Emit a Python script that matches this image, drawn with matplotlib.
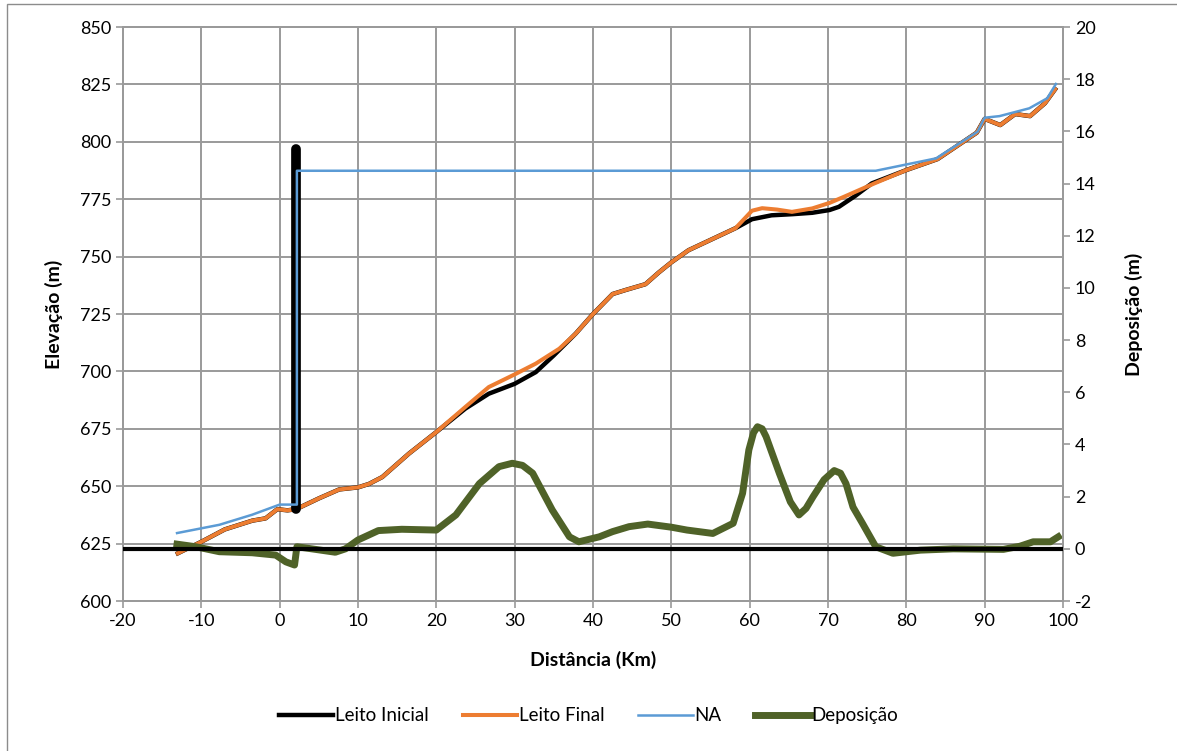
import matplotlib.pyplot as plt
from matplotlib.patches import Rectangle

# Leito Inicial (bed before)
dist_ini = [-13, -10, -7, -3.5, -1.8, -0.3, 1, 2.1, 5, 7.6, 10, 11.4, 13.1, 16.5, 20, 23.7,
            26.7, 30, 32.7, 35, 37.8, 40, 42.5, 44.2, 46.7, 48.4, 50, 52.2, 55.2, 58.2,
            60.3, 62.8, 65.5, 68, 70.2, 71.4, 73.5, 75.6, 80, 84, 89, 90, 92, 93.9, 95.8, 97.7, 99]
elev_ini = [620.8, 625.8, 631.2, 635, 636, 640, 639.5, 640, 644.7, 648.6, 649.5, 651, 654, 664.2, 673.6, 683.8,
            690.3, 694.6, 699.7, 707, 716.5, 725, 733.7, 735.5, 738, 743.1, 747.5, 752.8, 757.6, 762.4,
            766.3, 768, 768.5, 769.1, 770.3, 771.7, 776.5, 781.9, 787.7, 792.5, 804, 810, 807.3, 812.1, 811.2, 816.8, 822.9]

# dam / vertical part of Leito Inicial
barr_x = [2.1, 2.1]
barr_y = [640, 797]

# Leito Final
dist_fin = [-13, -10, -7, -3.5, -1.8, -0.3, 1, 2.1, 5, 7.6, 10, 11.4, 13.1, 16.5, 20, 23.7,
            26.7, 30, 32.7, 35.7, 37.8, 40, 42.5, 44.2, 46.7, 48.4, 50, 52.2, 55.2, 58.2,
            60.3, 61.6, 63.5, 65.4, 68, 70.2, 72, 74, 76, 80, 84, 89, 90, 92, 93.9, 95.8, 97.7, 99]
elev_fin = [620.8, 625.8, 631.2, 635, 636, 640, 639.5, 640, 644.7, 648.6, 649.5, 651, 654, 664.2, 673.6, 684.5,
            693.2, 698.7, 703.4, 709.9, 716.5, 725, 733.7, 735.5, 738, 743.1, 747.5, 752.8, 757.6, 762.4,
            770, 771.1, 770.5, 769.5, 771, 773.4, 776, 779, 782, 787.7, 792.5, 804, 810, 807.3, 812.1, 811.2, 816.8, 822.9]

# NA (water level)
dist_na = [-13.1, -7.7, -3.5, 0, 1.9, 2.2, 2.2, 76.1, 83.8, 89.1, 90.0, 91.9, 95.7, 98.0, 99.1]
elev_na = [629.6, 633.2, 637.6, 642, 642, 642, 787.4, 787.4, 792.8, 804.4, 810.5, 811.2, 814.6, 819, 825.2]

# Deposicao (secondary axis)
dist_dep = [-13.1, -10.7, -7.7, -3.5, -0.5, 0.8, 1.9, 2.2, 4.1, 7.1, 8.4, 10, 12.6, 15.6, 20, 22.5,
            25.5, 28, 29.7, 31, 32.3, 34.8, 37, 38.2, 40.8, 42.5, 44.6, 47, 50, 52, 55.3, 57.9,
            59.1, 59.9, 60.5, 61, 61.6, 62.1, 63.8, 65.2, 66.3, 67.2, 68.1, 69.5, 70.8, 71.6, 72.3, 73.2,
            74.4, 76.1, 78.3, 81.8, 86, 92.4, 94.5, 96.2, 98.4, 99.4]
dep = [0.18, 0.08, -0.11, -0.15, -0.24, -0.5, -0.62, 0.08, 0.0, -0.13, 0.0, 0.34, 0.7, 0.75, 0.72, 1.3,
       2.5, 3.15, 3.28, 3.2, 2.9, 1.49, 0.46, 0.27, 0.46, 0.66, 0.85, 0.95, 0.83, 0.72, 0.59, 0.98,
       2.13, 3.79, 4.45, 4.68, 4.6, 4.3, 2.89, 1.8, 1.3, 1.55, 2.0, 2.65, 3.0, 2.9, 2.5, 1.6,
       0.98, 0.08, -0.17, -0.05, 0.0, -0.02, 0.1, 0.27, 0.27, 0.46]

xticks = list(range(-20, 101, 10))
yticks = list(range(600, 851, 25))
y2ticks = list(range(-2, 21, 2))

plt.rcParams['font.family'] = ['Lato', 'DejaVu Sans']
plt.rcParams['axes.unicode_minus'] = False

fig = plt.figure(figsize=(11.77, 7.51), dpi=100)
ax = fig.add_axes([0.1045, 0.1997, 0.7986, 0.7643])
ax2 = ax.twinx()

grid_c = '#9a9a9a'
ax.set_xlim(-20, 100)
ax.set_ylim(600, 850)
ax.set_xticks(xticks)
ax.set_yticks(yticks)
ax.grid(True, color=grid_c, lw=1.4)
ax.set_axisbelow(True)

ax.plot(dist_ini, elev_ini, color='black', lw=3.2, zorder=2, label='Leito Inicial')
ax.plot(dist_fin, elev_fin, color='#ED7D31', lw=2.9, zorder=3, label='Leito Final')
ax.plot(barr_x, barr_y, color='black', lw=7, solid_capstyle='round', zorder=3.5)
ax.plot(dist_na, elev_na, color='#5B9BD5', lw=1.8, zorder=4, label='NA')

ax2.set_ylim(-2, 20)
ax2.set_yticks(y2ticks)
ax2.plot(dist_dep, dep, color='#4F6228', lw=5, zorder=2, label='Deposição')
ax2.axhline(0, color='black', lw=3, zorder=3)

for a in (ax, ax2):
    for s in a.spines.values():
        s.set_color(grid_c)
        s.set_linewidth(1.4)
    a.tick_params(colors=grid_c, labelcolor='black', length=5, width=1.2, labelsize=13)

ax.set_xlabel('Distância (Km)', fontweight='bold', fontsize=14, labelpad=16)
ax.set_ylabel('Elevação (m)', fontweight='bold', fontsize=14, labelpad=12)
ax2.set_ylabel('Deposição (m)', fontweight='bold', fontsize=14, labelpad=21)

h1, l1 = ax.get_legend_handles_labels()
h2, l2 = ax2.get_legend_handles_labels()
fig.legend(h1 + h2, l1 + l2, loc='center', bbox_to_anchor=(0.5, 0.047), ncol=4,
           frameon=False, handlelength=2.9, handletextpad=0.1, columnspacing=1.8, fontsize=13.5)

fig.patches.append(Rectangle((7 / 1177, -0.01), 1.1, 1 - 4 / 751 + 0.01, transform=fig.transFigure,
                             fill=False, edgecolor='#8c8c8c', lw=1))

fig.savefig('out.png', dpi=100)
